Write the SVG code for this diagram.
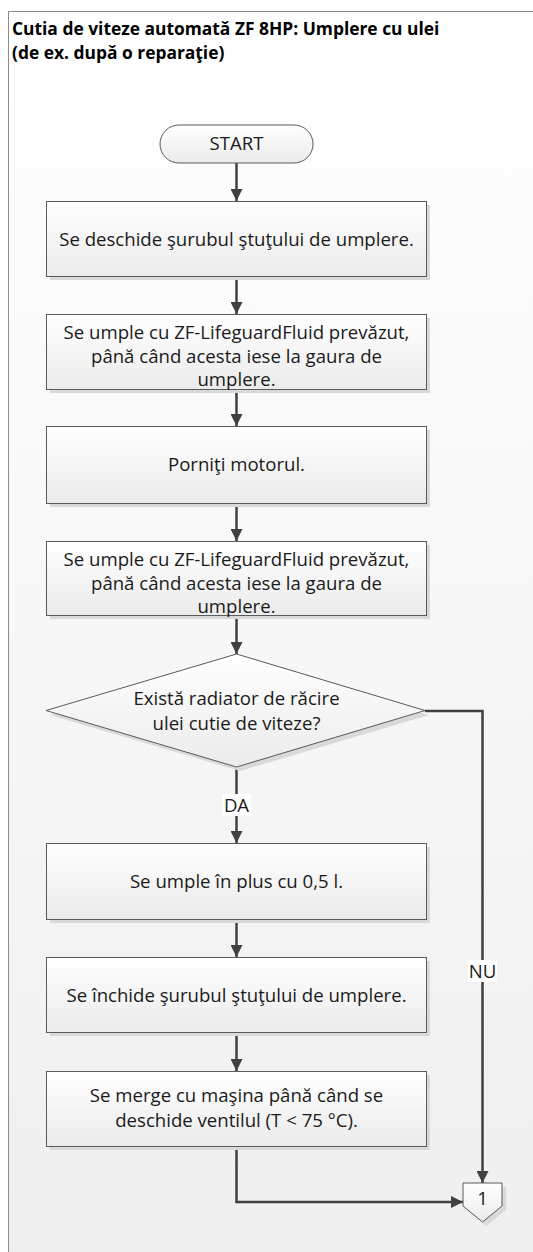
<svg xmlns="http://www.w3.org/2000/svg" width="533" height="1252" viewBox="0 0 533 1252">
<defs>
<linearGradient id="bg" x1="0" y1="0" x2="0" y2="1">
<stop offset="0" stop-color="#ffffff"/>
<stop offset="1" stop-color="#efefef"/>
</linearGradient>
<linearGradient id="box" x1="0" y1="0" x2="0" y2="1">
<stop offset="0" stop-color="#ffffff"/>
<stop offset="1" stop-color="#ebebeb"/>
</linearGradient>
<marker id="ah" viewBox="0 0 12 12" refX="12" refY="6" markerWidth="12" markerHeight="12" markerUnits="userSpaceOnUse" orient="auto">
<path d="M0,0 L12,6 L0,12 z" fill="#404040"/>
</marker>
</defs>
<style>
.shape{fill:url(#box);stroke:#5a5a5a;stroke-width:1}
.shadow{fill:#d9d9d9}
.t{font-family:"Open Sans","Liberation Sans",sans-serif;font-size:18.6px;fill:#1a1a1a;text-anchor:middle}
.title{font-family:"Open Sans","Liberation Sans",sans-serif;font-size:17.4px;font-weight:bold;fill:#000}
.c{fill:none;stroke:#404040;stroke-width:2.5}
.lbl{fill:#ffffff}
</style>
<rect x="0" y="0" width="533" height="1252" fill="#ffffff"/>
<rect x="8.5" y="11.5" width="530" height="1250" fill="url(#bg)" stroke="#8c8c8c" stroke-width="1"/>
<g id="title">
<text class="title" x="12" y="35">Cutia de viteze automată ZF 8HP: Umplere cu ulei</text>
<text class="title" x="12" y="59">(de ex. după o reparaţie)</text>
</g>
<g id="connectors">
<line class="c" x1="236.5" y1="163" x2="236.5" y2="201" marker-end="url(#ah)"/>
<line class="c" x1="236.5" y1="276" x2="236.5" y2="314" marker-end="url(#ah)"/>
<line class="c" x1="236.5" y1="389" x2="236.5" y2="426" marker-end="url(#ah)"/>
<line class="c" x1="236.5" y1="503" x2="236.5" y2="541" marker-end="url(#ah)"/>
<line class="c" x1="236.5" y1="615" x2="236.5" y2="654" marker-end="url(#ah)"/>
<line class="c" x1="236.5" y1="767" x2="236.5" y2="843" marker-end="url(#ah)"/>
<line class="c" x1="236.5" y1="919" x2="236.5" y2="957" marker-end="url(#ah)"/>
<line class="c" x1="236.5" y1="1032" x2="236.5" y2="1071" marker-end="url(#ah)"/>
<polyline class="c" points="236.5,1146 236.5,1202 463,1202" marker-end="url(#ah)"/>
<polyline class="c" points="425,711 482.5,711 482.5,1183" marker-end="url(#ah)"/>
<rect class="lbl" x="222" y="794" width="29" height="22"/>
<text class="t" x="236.5" y="812">DA</text>
<rect class="lbl" x="468" y="960" width="29" height="22"/>
<text class="t" x="482.5" y="978">NU</text>
</g>
<g id="start">
<rect x="160" y="125" width="153" height="38" rx="19" class="shape"/>
<text class="t" x="236.5" y="150">START</text>
</g>
<g id="box1">
<rect class="shadow" x="50" y="205" width="380" height="75"/>
<rect class="shape" x="46.5" y="201.5" width="380" height="75"/>
<text class="t" x="236.5" y="246">Se deschide şurubul ştuţului de umplere.</text>
</g>
<g id="box2">
<rect class="shadow" x="50" y="318" width="380" height="75"/>
<rect class="shape" x="46.5" y="314.5" width="380" height="75"/>
<text class="t" x="236.5" y="339">Se umple cu ZF-LifeguardFluid prevăzut,</text>
<text class="t" x="236.5" y="363">până când acesta iese la gaura de</text>
<text class="t" x="236.5" y="386">umplere.</text>
</g>
<g id="box3">
<rect class="shadow" x="50" y="430" width="380" height="77"/>
<rect class="shape" x="46.5" y="426.5" width="380" height="77"/>
<text class="t" x="236.5" y="471">Porniţi motorul.</text>
</g>
<g id="box4">
<rect class="shadow" x="50" y="545" width="380" height="74"/>
<rect class="shape" x="46.5" y="541.5" width="380" height="74"/>
<text class="t" x="236.5" y="566">Se umple cu ZF-LifeguardFluid prevăzut,</text>
<text class="t" x="236.5" y="590">până când acesta iese la gaura de</text>
<text class="t" x="236.5" y="613">umplere.</text>
</g>
<g id="decision">
<polygon class="shadow" points="240,658 429,715 240,771 50,715"/>
<polygon class="shape" points="236.5,654 425,710.5 236.5,767 46,710.5"/>
<text class="t" x="236.5" y="705">Există radiator de răcire</text>
<text class="t" x="236.5" y="730">ulei cutie de viteze?</text>
</g>
<g id="box5">
<rect class="shadow" x="50" y="847" width="380" height="76"/>
<rect class="shape" x="46.5" y="843.5" width="380" height="76"/>
<text class="t" x="236.5" y="888">Se umple în plus cu 0,5 l.</text>
</g>
<g id="box6">
<rect class="shadow" x="50" y="961" width="380" height="75"/>
<rect class="shape" x="46.5" y="957.5" width="380" height="75"/>
<text class="t" x="236.5" y="1002">Se închide şurubul ştuţului de umplere.</text>
</g>
<g id="box7">
<rect class="shadow" x="50" y="1075" width="380" height="75"/>
<rect class="shape" x="46.5" y="1071.5" width="380" height="75"/>
<text class="t" x="236.5" y="1102">Se merge cu maşina până când se</text>
<text class="t" x="236.5" y="1127">deschide ventilul (T &lt; 75 °C).</text>
</g>
<g id="offpage">
<polygon class="shadow" points="467,1187 506,1187 506,1210 486.5,1226 467,1210"/>
<polygon class="shape" points="463,1183 502,1183 502,1206 482.5,1222 463,1206"/>
<text class="t" x="482.5" y="1205">1</text>
</g>
</svg>
